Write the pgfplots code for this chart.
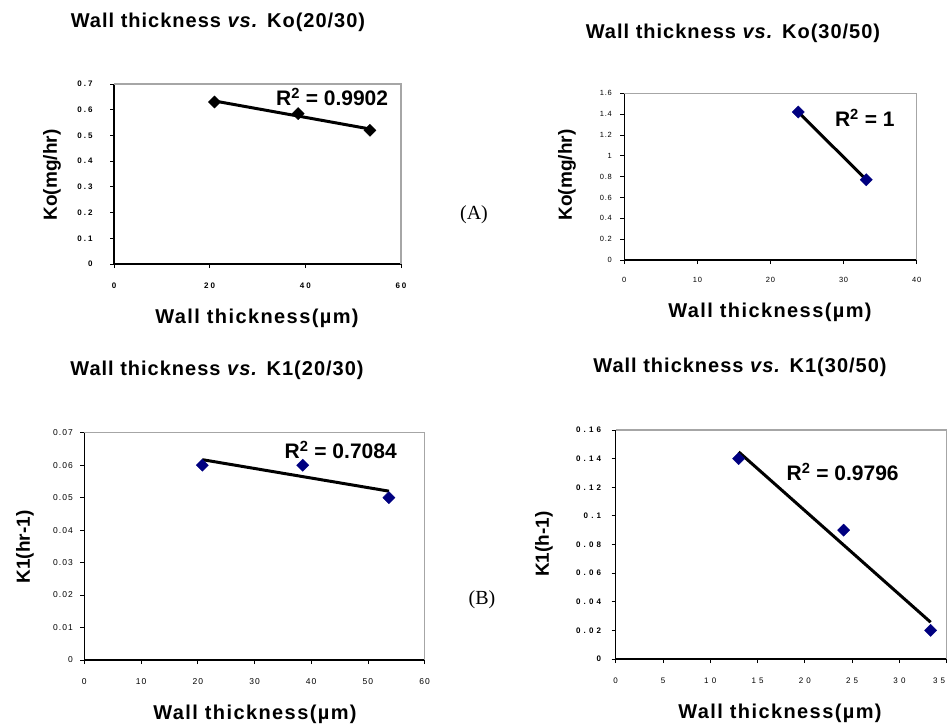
\documentclass[border=0pt]{standalone}
\usepackage{fontspec}
\setmainfont{Liberation Sans}
\newfontfamily\serif{Liberation Serif}
\usepackage{pgfplots}
\pgfplotsset{compat=1.18}

\definecolor{navy}{RGB}{0,0,128}

\newcommand{\tf}[3]{\fontsize{#1}{#1}\selectfont#3\addfontfeature{LetterSpace=#2}}

\pgfplotsset{
  panel/.style={
    scale only axis, anchor=south west,
    axis x line*=bottom, axis y line*=left,
    axis line style={-, black, line width=1.4pt},
    tick align=outside, major tick length=4pt,
    tick style={black, line width=0.8pt},
    /pgf/number format/assume math mode=true,
    scaled y ticks=false,
    yticklabel style={/pgf/number format/fixed, /pgf/number format/precision=2},
    clip=false,
    after end axis/.code={
      \draw[gray!70, line width=1.4pt] (rel axis cs:0,1) -- (rel axis cs:1,1) -- (rel axis cs:1,0);
    },
  },
  dat/.style={only marks, mark=square*, mark size=4.3pt,
    mark options={rotate=45, draw=#1, fill=#1}},
  trend/.style={black, line width=3pt, no marks},
}

\newcommand{\ttl}[1]{\fontsize{20}{22}\selectfont\bfseries\addfontfeature{LetterSpace=5}#1}
\newcommand{\lbl}[1]{\fontsize{20}{22}\selectfont\bfseries\addfontfeature{LetterSpace=7}#1}
\newcommand{\ylbl}[1]{\fontsize{19}{21}\selectfont\bfseries #1}
\newcommand{\rsq}[1]{\fontsize{21}{23}\selectfont\bfseries R$^{\mathbf 2}$ = #1}

\begin{document}
\begin{tikzpicture}
\path[use as bounding box] (0,0) rectangle (949pt,-727pt);

% (A) left: Ko 20/30
\begin{axis}[panel, at={(114pt,-264pt)}, width=287pt, height=180pt,
  xmin=0, xmax=60, ymin=0, ymax=0.7,
  xtick={0,20,40,60}, ytick={0,0.1,0.2,0.3,0.4,0.5,0.6,0.7},
  xticklabel style={font=\tf{8}{25}{\bfseries}, yshift=-11pt},
  yticklabel style={font=\tf{8}{25}{\bfseries}, xshift=-14pt}]
\addplot[dat=black] coordinates {(21,0.63) (38.5,0.585) (53.5,0.52)};
\addplot[trend] coordinates {(21,0.634) (53.5,0.525)};
\node at (axis cs:45.6,0.649) {\rsq{0.9902}};
\end{axis}

% (A) right: Ko 30/50
\begin{axis}[panel, at={(624.3pt,-260pt)}, width=292.4pt, height=166.7pt,
  xmin=0, xmax=40, ymin=0, ymax=1.6,
  xtick={0,10,20,30,40}, ytick={0,0.2,0.4,0.6,0.8,1,1.2,1.4,1.6},
  xticklabel style={font=\tf{7.5}{10}{}, yshift=-10pt},
  yticklabel style={font=\tf{7.5}{10}{}, xshift=-5pt, /pgf/number format/precision=1}]
\addplot[dat=navy] coordinates {(23.8,1.42) (33.1,0.77)};
\addplot[trend] coordinates {(23.8,1.42) (33.1,0.77)};
\node at (axis cs:32.9,1.363) {\rsq{1}};
\end{axis}

% (B) left: K1 20/30
\begin{axis}[panel, at={(84.3pt,-660pt)}, width=340.4pt, height=227.3pt,
  xmin=0, xmax=60, ymin=0, ymax=0.07,
  xtick={0,10,20,30,40,50,60}, ytick={0,0.01,0.02,0.03,0.04,0.05,0.06,0.07},
  xticklabel style={font=\tf{8.5}{12}{}, yshift=-11pt},
  yticklabel style={font=\tf{8.5}{12}{}, xshift=-4pt}]
\addplot[dat=navy] coordinates {(20.8,0.06) (38.5,0.06) (53.7,0.05)};
\addplot[trend] coordinates {(20.8,0.0617) (53.7,0.0520)};
\node at (axis cs:45.2,0.0647) {\rsq{0.7084}};
\end{axis}

% (B) right: K1 30/50
\begin{axis}[panel, at={(615.7pt,-659pt)}, width=331pt, height=229pt,
  xmin=0, xmax=35, ymin=0, ymax=0.16,
  xtick={0,5,10,15,20,25,30}, ytick={0,0.02,0.04,0.06,0.08,0.1,0.12,0.14,0.16},
  extra x ticks={35},
  extra x tick style={xticklabel style={anchor=north east, xshift=2pt}},
  xticklabel style={font=\tf{8}{40}{}, yshift=-11pt},
  yticklabel style={font=\tf{8}{40}{\bfseries}, xshift=-7pt}]
\addplot[dat=navy] coordinates {(13,0.14) (24.1,0.09) (33.3,0.02)};
\addplot[trend] coordinates {(13,0.1447) (33.3,0.0257)};
\node at (axis cs:24.0,0.1307) {\rsq{0.9796}};
\end{axis}

% titles
\node at (218pt,-22pt) {\ttl{Wall thickness \textit{vs.} Ko(20/30)}};
\node at (733pt,-33pt) {\ttl{Wall thickness \textit{vs.} Ko(30/50)}};
\node at (217pt,-370pt) {\ttl{Wall thickness \textit{vs.} K1(20/30)}};
\node at (740pt,-367pt) {\ttl{Wall thickness \textit{vs.} K1(30/50)}};

% x labels
\node at (257pt,-318pt) {\lbl{Wall thickness(µm)}};
\node at (770pt,-312pt) {\lbl{Wall thickness(µm)}};
\node at (255pt,-714pt) {\lbl{Wall thickness(µm)}};
\node at (780pt,-713pt) {\lbl{Wall thickness(µm)}};

% y labels
\node[rotate=90] at (52pt,-175pt) {\ylbl{Ko(mg/hr)}};
\node[rotate=90] at (567pt,-175pt) {\ylbl{Ko(mg/hr)}};
\node[rotate=90] at (25pt,-547pt) {\ylbl{K1(hr-1)}};
\node[rotate=90] at (544pt,-544pt) {\ylbl{K1(h-1)}};

% panel letters
\node at (474pt,-215pt) {\serif\fontsize{20}{22}\selectfont (A)};
\node at (482pt,-600pt) {\serif\fontsize{20}{22}\selectfont (B)};
\end{tikzpicture}
\end{document}
